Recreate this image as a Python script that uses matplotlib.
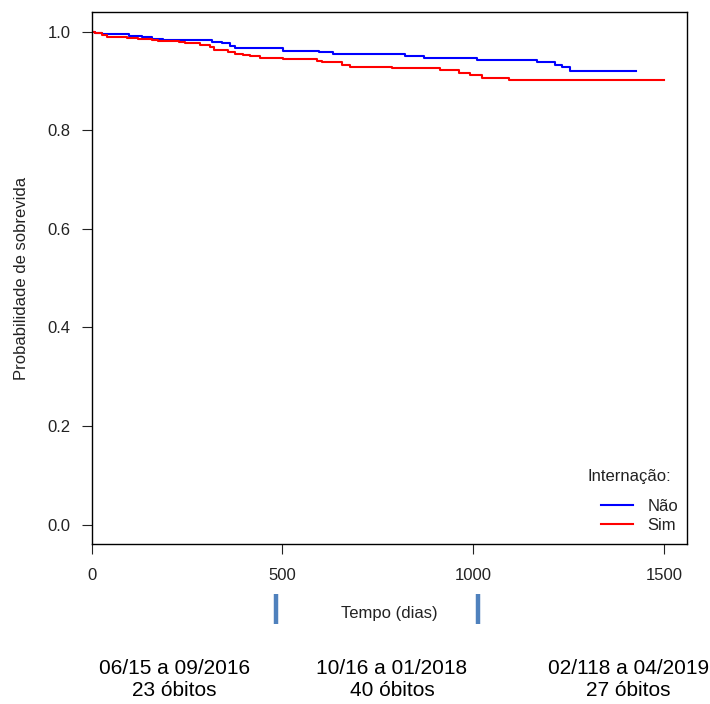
import matplotlib
matplotlib.use("Agg")
import matplotlib.pyplot as plt

plt.rcParams["font.family"] = ["Liberation Sans", "DejaVu Sans"]

# Kaplan-Meier estimates by hospitalisation group (time in days)
nao_t = [0, 9, 27, 97, 132, 158, 188, 272, 315, 342, 363, 376, 503, 595,
         634, 699, 822, 871, 1010, 1168, 1216, 1232, 1253]
nao_s = [1.0, 0.997, 0.995, 0.992, 0.989, 0.986, 0.984, 0.982, 0.979, 0.976,
         0.971, 0.966, 0.961, 0.958, 0.955, 0.954, 0.950, 0.946, 0.943, 0.939,
         0.932, 0.928, 0.921]
nao_end = 1426

sim_t = [0, 9, 27, 40, 92, 123, 158, 175, 228, 245, 285, 311, 320, 359, 376,
         398, 416, 442, 503, 591, 604, 656, 678, 731, 787, 914, 962, 993,
         1023, 1093]
sim_s = [1.0, 0.997, 0.993, 0.990, 0.987, 0.985, 0.982, 0.980, 0.978, 0.976,
         0.973, 0.969, 0.963, 0.958, 0.955, 0.953, 0.950, 0.947, 0.945, 0.941,
         0.939, 0.933, 0.929, 0.928, 0.926, 0.922, 0.917, 0.912, 0.906, 0.901]
sim_end = 1500

# period boundaries (days) and summary of each period
cut_days = [483, 1013]
periods = ["06/15 a 09/2016", "10/16 a 01/2018", "02/118 a 04/2019"]
deaths = [23, 40, 27]

x_ticks = [0, 500, 1000, 1500]
y_ticks = [0.0, 0.2, 0.4, 0.6, 0.8, 1.0]

fig = plt.figure(figsize=(7.1, 7.04), dpi=100)
ax = fig.add_axes([0.1289, 0.2268, 0.8383, 0.7563])

ax.step(nao_t + [nao_end], nao_s + [nao_s[-1]], where="post",
        color="#0000FF", lw=1.5, label="Não")
ax.step(sim_t + [sim_end], sim_s + [sim_s[-1]], where="post",
        color="#FF0000", lw=1.5, label="Sim")

ax.set_xlim(0, 1560)
ax.set_ylim(-0.04, 1.04)
ax.set_xticks(x_ticks)
ax.set_yticks(y_ticks)
ax.set_yticklabels([f"{v:.1f}" for v in y_ticks])
ax.tick_params(axis="both", length=7.2, width=0.8, labelsize=12,
               colors="#222222")
ax.tick_params(axis="x", pad=10)
ax.tick_params(axis="y", pad=8)
for sp in ax.spines.values():
    sp.set_linewidth(1.0)
    sp.set_color("black")

ax.set_ylabel("Probabilidade de sobrevida", fontsize=12, color="#222222")
ax.yaxis.set_label_coords(-0.105, 0.5)
ax.set_xlabel("Tempo (dias)", fontsize=12, color="#222222")
ax.xaxis.set_label_coords(0.5, -0.115)

# markers for the period boundaries under the axis
for d in cut_days:
    ax.plot([d, d], [-0.093, -0.150], color="#4F81BD", lw=3.2,
            solid_capstyle="butt", clip_on=False,
            transform=ax.get_xaxis_transform())

leg = ax.legend(loc="lower right", bbox_to_anchor=(0.986, 0.022),
                frameon=False, fontsize=12, handlelength=1.9,
                handletextpad=0.9, labelspacing=0.2, borderaxespad=0,
                borderpad=0)
for t in leg.get_texts():
    t.set_color("#222222")
ax.text(0.904, 0.127, "Internação:", transform=ax.transAxes, ha="center",
        va="center", fontsize=12, color="#222222")

for x, p, n in zip([0.246, 0.552, 0.885], periods, deaths):
    fig.text(x, 0.035, f"{p}\n{n} óbitos", ha="center", va="center",
             fontsize=15, linespacing=1.2)

fig.savefig("out.png", dpi=100)
